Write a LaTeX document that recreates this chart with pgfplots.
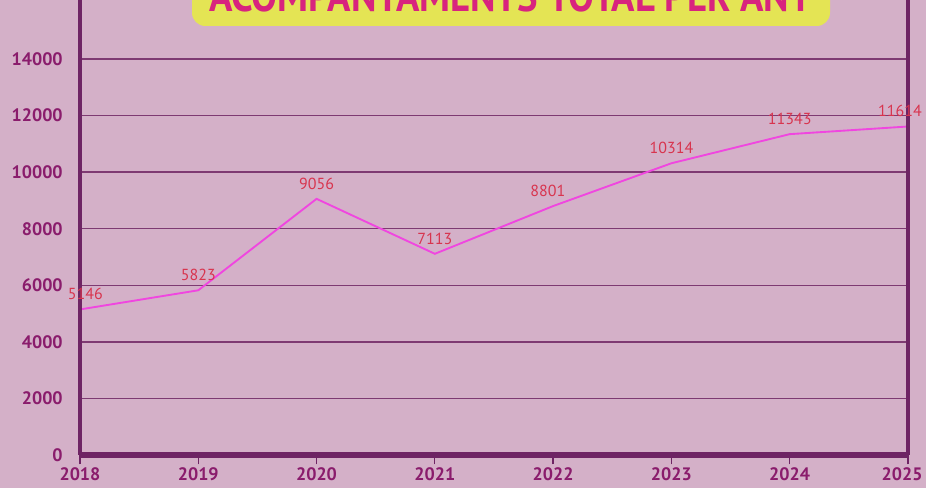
\documentclass[border=0pt]{standalone}
\usepackage{pgfplots}
\usepackage{pgfplotstable}
\pgfplotsset{compat=1.18}
\usepackage{fontspec}
\setmainfont{PT Sans}
\definecolor{bgc}{HTML}{D4B0C8}
\definecolor{axisc}{HTML}{6E2464}
\definecolor{gridc}{HTML}{7E3A72}
\definecolor{tickc}{HTML}{8A1C6C}
\definecolor{linec}{HTML}{F046E0}
\definecolor{labc}{HTML}{D8344E}
\definecolor{titlebg}{HTML}{E4E454}
\definecolor{titlec}{HTML}{D8247E}
\pgfplotstableread{
year value dx
2018 5146 4
2019 5823 0
2020 9056 0
2021 7113 0
2022 8801 -4
2023 10314 0
2024 11343 0
2025 11614 -6
}\datatable
\begin{document}
\begin{tikzpicture}
\clip (0pt,0pt) rectangle (694.5pt,-366pt);
\fill[bgc] (0pt,0pt) rectangle (694.5pt,-366pt);
\begin{axis}[
  at={(60pt,-341.25pt)}, anchor=south west,
  scale only axis, width=621pt, height=341.25pt,
  xmin=2018, xmax=2025, ymin=0, ymax=16086,
  clip=false,
  axis line style={draw=none},
  /pgf/number format/1000 sep={},
  /pgf/number format/assume math mode=true,
  scaled y ticks=false,
  xtick={2018,2019,...,2025},
  xticklabels={2018,2019,2020,2021,2022,2023,2024,{\makebox[22pt][r]{2025}}},
  ytick={0,2000,...,14000},
  ymajorgrids,
  grid style={color=gridc, line width=1.1pt},
  tick align=outside,
  major tick length=7pt,
  x tick style={color=axisc, line width=1pt},
  y tick style={draw=none},
  tick label style={font=\fontsize{13.5}{16}\selectfont\bfseries, text=tickc},
  xticklabel style={yshift=1pt},
  yticklabel style={xshift=-2.5pt},
]
\addplot[color=linec, line width=1.4pt,
  visualization depends on={\thisrow{dx} \as \dx},
  nodes near coords,
  nodes near coords style={font=\fontsize{12}{14}\selectfont, text=labc, anchor=south, yshift=3pt, xshift=\dx pt}]
  table[x=year, y=value] {\datatable};
\draw[axisc, line width=3.5pt] (rel axis cs:0,0) -- (rel axis cs:0,1.02);
\draw[axisc, line width=3pt] (rel axis cs:1,0) -- (rel axis cs:1,1.02);
\draw[axisc, line width=3.8pt] (rel axis cs:0,0) -- (rel axis cs:1,0);
\end{axis}
\fill[titlebg, rounded corners=10pt] (144pt,20pt) rectangle (622.5pt,-19.5pt);
\node[anchor=base, inner sep=0pt, text=titlec] at (383pt,-9pt)
  {\resizebox{452pt}{24pt}{\bfseries ACOMPANYAMENTS TOTAL PER ANY}};
\end{tikzpicture}
\end{document}
